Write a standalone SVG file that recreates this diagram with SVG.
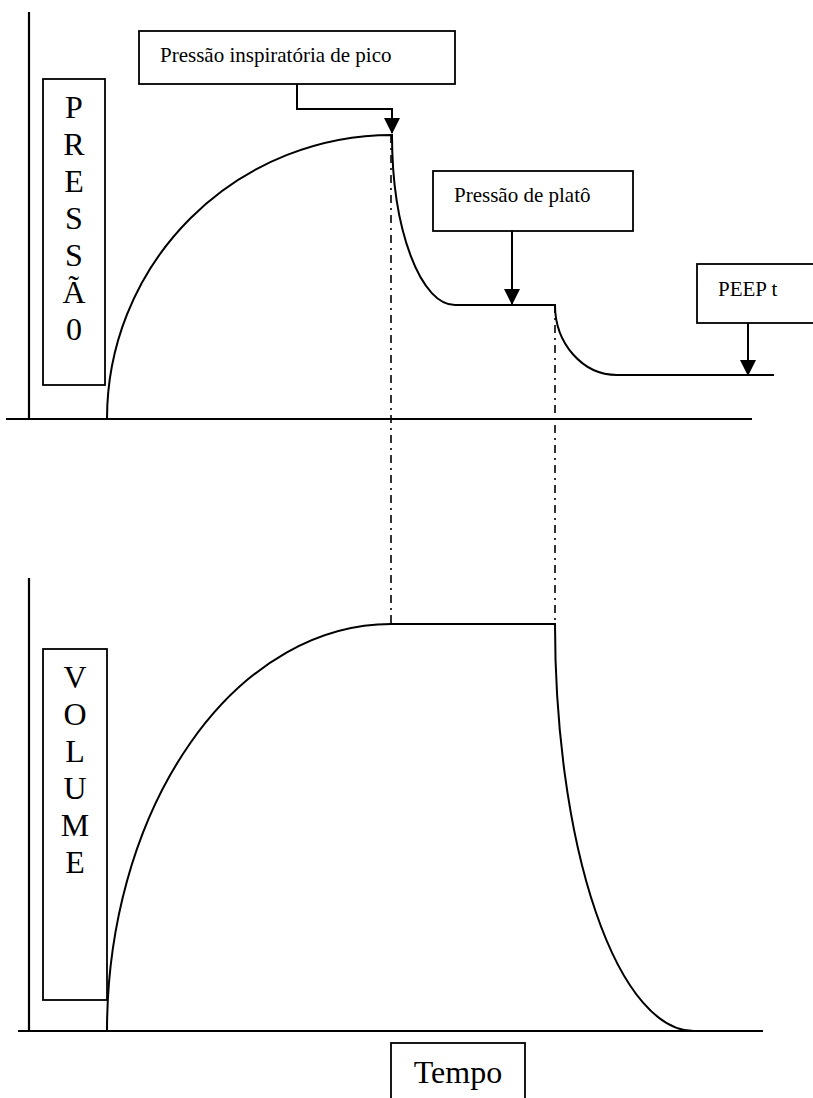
<svg xmlns="http://www.w3.org/2000/svg" width="813" height="1098" viewBox="0 0 813 1098">
<style>
.ln{fill:none;stroke:#000;stroke-width:2}
.ax{fill:none;stroke:#000;stroke-width:2.2}
.bx{fill:#fff;stroke:#000;stroke-width:1.8}
.dd{fill:none;stroke:#000;stroke-width:1.6;stroke-dasharray:8 5 2 5}
.lbl{font-family:"Liberation Serif","Times New Roman",serif;font-size:21px;fill:#000}
.big{font-family:"Liberation Serif","Times New Roman",serif;font-size:32px;fill:#000;text-anchor:middle}
</style>
<defs>
<marker id="ah" viewBox="0 0 16 16" refX="15" refY="8" markerWidth="16" markerHeight="16" markerUnits="userSpaceOnUse" orient="auto">
<path d="M0,0 L16,8 L0,16 Z" fill="#000"/>
</marker>
</defs>
<rect width="813" height="1098" fill="#fff"/>
<g id="axes">
<line class="ax" x1="29" y1="12" x2="29" y2="419"/>
<line class="ax" x1="6" y1="419" x2="752" y2="419"/>
<line class="ax" x1="29" y1="578" x2="29" y2="1031"/>
<line class="ax" x1="18" y1="1031" x2="763" y2="1031"/>
</g>
<g id="guides">
<line class="dd" x1="391" y1="135" x2="391" y2="624"/>
<line class="dd" x1="555" y1="305" x2="555" y2="624"/>
</g>
<g id="pressure-curve">
<path class="ln" d="M107,419 A285,284 0 0 1 392,135 A63,170 0 0 0 455,305 L555,305 A62,70 0 0 0 617,375 L774,375"/>
</g>
<g id="volume-curve">
<path class="ln" d="M107,1031 A284,407 0 0 1 391,624 L555,624 A139,407 0 0 0 694,1031"/>
</g>
<g id="pressao-label">
<rect class="bx" x="43" y="79" width="62" height="306"/>
<text class="big" x="74" y="118">P</text>
<text class="big" x="74" y="155">R</text>
<text class="big" x="74" y="192">E</text>
<text class="big" x="74" y="229">S</text>
<text class="big" x="74" y="266">S</text>
<text class="big" x="74" y="303">Ã</text>
<text class="big" x="74" y="340">0</text>
</g>
<g id="volume-label">
<rect class="bx" x="43" y="649" width="64" height="351"/>
<text class="big" x="75" y="688">V</text>
<text class="big" x="75" y="725">O</text>
<text class="big" x="75" y="762">L</text>
<text class="big" x="75" y="799">U</text>
<text class="big" x="75" y="836">M</text>
<text class="big" x="75" y="873">E</text>
</g>
<g id="pico-box">
<rect class="bx" x="139" y="31" width="316" height="53"/>
<text class="lbl" x="160" y="62">Pressão inspiratória de pico</text>
</g>
<g id="plato-box">
<rect class="bx" x="433" y="171" width="200" height="60"/>
<text class="lbl" x="454" y="202">Pressão de platô</text>
</g>
<g id="peep-box">
<rect class="bx" x="697" y="264" width="118" height="59"/>
<text class="lbl" x="718" y="296">PEEP t</text>
</g>
<g id="tempo-box">
<rect class="bx" x="391" y="1043" width="134" height="60"/>
<text class="big" x="458" y="1083">Tempo</text>
</g>
<g id="connectors">
<path class="ln" d="M297,84 L297,109 L392,109 L392,133" marker-end="url(#ah)"/>
<path class="ln" d="M512,231 L512,304" marker-end="url(#ah)"/>
<path class="ln" d="M748,323 L748,375" marker-end="url(#ah)"/>
</g>
</svg>
